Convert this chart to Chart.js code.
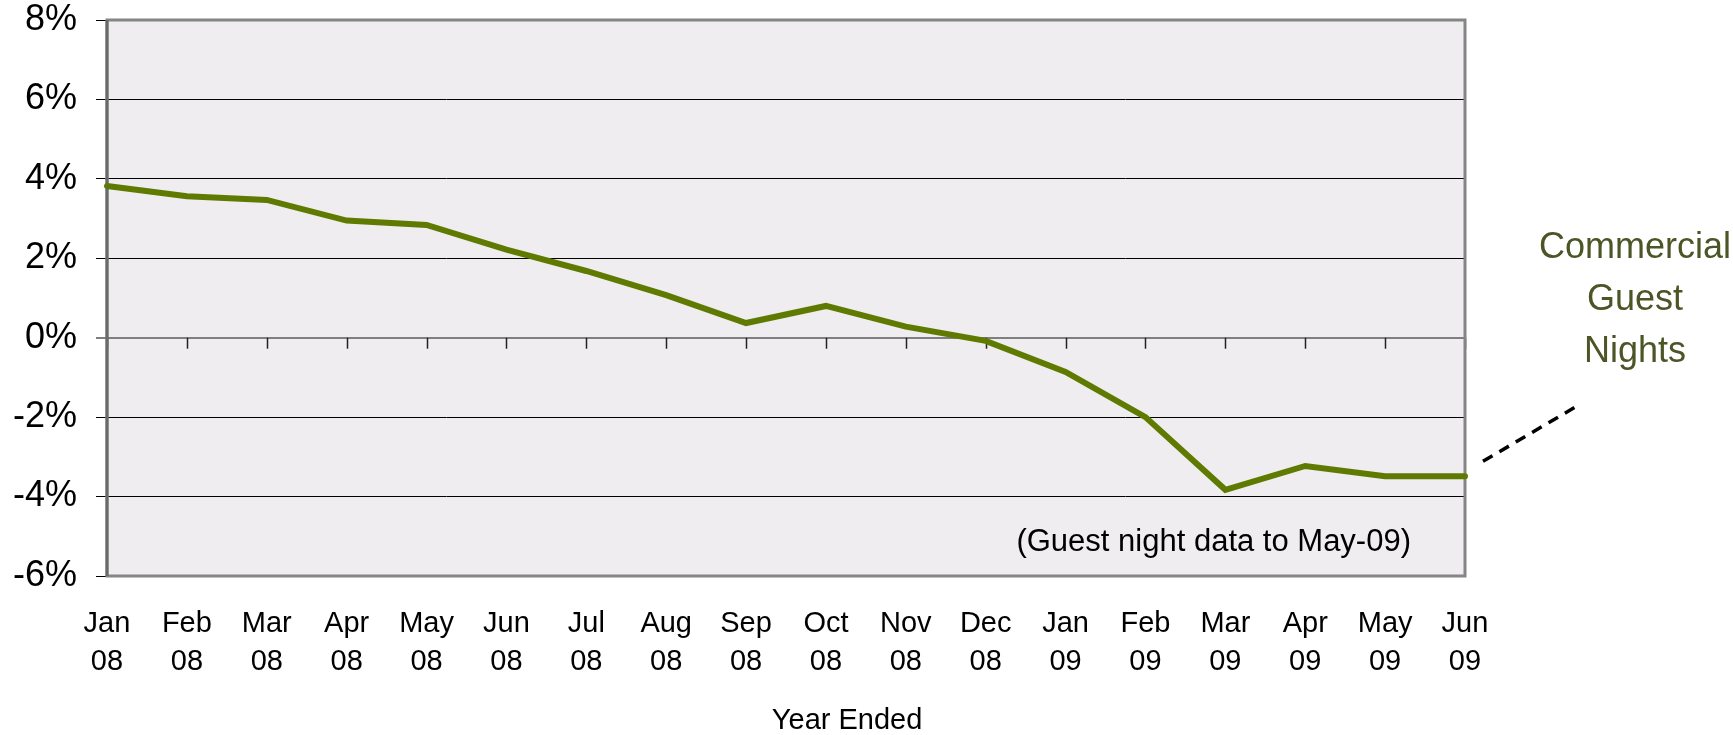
<!DOCTYPE html>
<html>
<head>
<meta charset="utf-8">
<script src="https://cdn.jsdelivr.net/npm/chart.js@4"></script>
<style>
  html, body { margin: 0; padding: 0; background: #ffffff; }
  #wrap { width: 1733px; height: 735px; }
</style>
</head>
<body>
<div id="wrap"><canvas id="c" width="1733" height="735"></canvas></div>
<script>
// ---- data ----
const months = ['Jan','Feb','Mar','Apr','May','Jun','Jul','Aug','Sep','Oct','Nov','Dec','Jan','Feb','Mar','Apr','May','Jun'];
const years  = ['08','08','08','08','08','08','08','08','08','08','08','08','09','09','09','09','09','09'];
const guestNights = [3.82, 3.56, 3.47, 2.95, 2.84, 2.22, 1.68, 1.07, 0.37, 0.80, 0.28, -0.08, -0.86, -2.00, -3.83, -3.23, -3.49, -3.49];
const yMin = -6, yMax = 8, yStep = 2;
const seriesLabel = ['Commercial', 'Guest', 'Nights'];
const noteText = '(Guest night data to May-09)';
const axisTitle = 'Year Ended';

const FONT = "'Liberation Sans', Arial, sans-serif";
const labels = months.map((m, i) => [m, years[i]]);

const decor = {
  id: 'decor',
  beforeDraw(chart) {
    const { ctx, chartArea: a } = chart;
    ctx.save();
    ctx.fillStyle = '#EFEDEF';
    ctx.fillRect(a.left, a.top, a.right - a.left, a.bottom - a.top);
    ctx.restore();
  },
  beforeDatasetsDraw(chart) {
    const { ctx, chartArea: a, scales } = chart;
    const xs = scales.x, ys = scales.y;
    const y0 = ys.getPixelForValue(0);
    ctx.save();
    // tick marks hanging from the zero line
    ctx.strokeStyle = '#222';
    ctx.lineWidth = 1.5;
    for (let i = 0; i < labels.length; i++) {
      const x = Math.round(xs.getPixelForTick(i)) + 0.5;
      ctx.beginPath();
      ctx.moveTo(x, y0);
      ctx.lineTo(x, y0 + 11);
      ctx.stroke();
    }
    // plot border
    ctx.strokeStyle = '#858585';
    ctx.lineWidth = 3;
    ctx.strokeRect(a.left, a.top, a.right - a.left, a.bottom - a.top);
    ctx.strokeStyle = '#6a6a6a';
    ctx.beginPath();
    ctx.moveTo(a.left, a.top); ctx.lineTo(a.left, a.bottom);
    ctx.stroke();
    ctx.restore();
  },
  afterDatasetsDraw(chart) {
    const { ctx, chartArea: a } = chart;
    const meta = chart.getDatasetMeta(0);
    const last = meta.data[meta.data.length - 1];
    ctx.save();
    // dashed leader line
    ctx.strokeStyle = '#000';
    ctx.lineWidth = 3.5;
    ctx.setLineDash([11, 8]);
    ctx.beginPath();
    ctx.moveTo(last.x + 18, last.y - 15);
    ctx.lineTo(last.x + 115, last.y - 72);
    ctx.stroke();
    ctx.setLineDash([]);
    // series label
    ctx.fillStyle = '#4B5526';
    ctx.font = '36px ' + FONT;
    ctx.textAlign = 'center';
    ctx.textBaseline = 'alphabetic';
    const cx = a.right + 170;
    seriesLabel.forEach((t, i) => ctx.fillText(t, cx, 258 + i * 52));
    // note
    ctx.fillStyle = '#000';
    ctx.font = '31px ' + FONT;
    ctx.textAlign = 'right';
    ctx.fillText(noteText, a.right - 54, a.bottom - 25);
    // axis title
    ctx.font = '29px ' + FONT;
    ctx.textAlign = 'center';
    ctx.fillText(axisTitle, a.left + 0.545 * (a.right - a.left), 729);
    ctx.restore();
  }
};

new Chart(document.getElementById('c'), {
  type: 'line',
  data: {
    labels: labels,
    datasets: [{
      label: 'Commercial Guest Nights',
      data: guestNights,
      borderColor: '#5E7A00',
      borderWidth: 6,
      pointRadius: 0,
      pointHoverRadius: 0,
      tension: 0,
      fill: false,
      borderCapStyle: 'round',
      borderJoinStyle: 'miter',
      clip: false
    }]
  },
  options: {
    responsive: false,
    animation: false,
    events: [],
    layout: { padding: { left: 0, top: 20, right: 268, bottom: 0 } },
    plugins: { legend: { display: false }, tooltip: { enabled: false }, title: { display: false } },
    scales: {
      x: {
        offset: false,
        grid: { display: false, drawTicks: false },
        border: { display: false },
        ticks: {
          color: '#000',
          font: { family: FONT, size: 29, lineHeight: 1.31 },
          padding: 29,
          maxRotation: 0,
          minRotation: 0,
          autoSkip: false
        },
        afterFit(s) { s.height = 159; s.paddingLeft = 0; s.paddingRight = 0; }
      },
      y: {
        min: yMin,
        max: yMax,
        grid: {
          color: (c) => (c.tick && c.tick.value === 0) ? '#7f7f7f' : '#000',
          lineWidth: (c) => (c.tick && c.tick.value === 0) ? 2 : 1,
          tickLength: 11,
          drawTicks: true
        },
        border: { display: false },
        ticks: {
          stepSize: yStep,
          color: '#000',
          font: { family: FONT, size: 36, lineHeight: 1.0 },
          padding: 19,
          callback: (v) => v + '%'
        },
        afterFit(s) { s.width = 107; s.paddingTop = 0; s.paddingBottom = 0; }
      }
    }
  },
  plugins: [decor]
});
</script>
</body>
</html>
